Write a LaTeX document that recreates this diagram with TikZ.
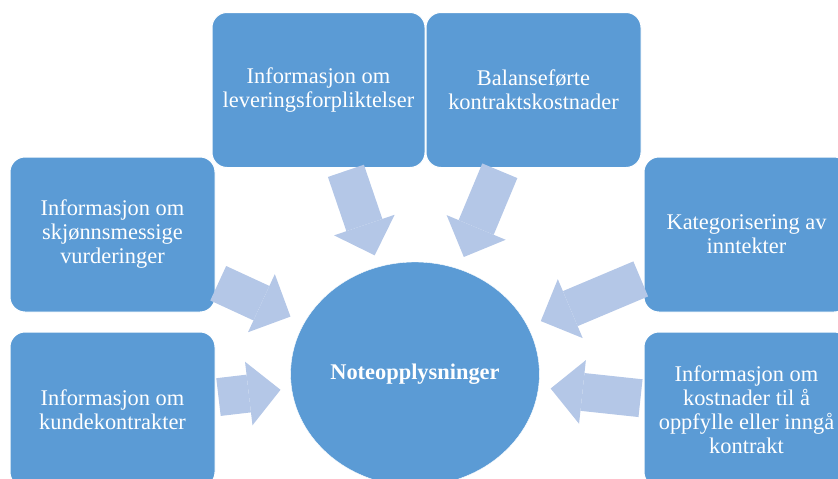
\documentclass[tikz,border=0pt]{standalone}
\usepackage{fontspec}
\setmainfont{Liberation Serif}
\usetikzlibrary{arrows.meta, shapes.geometric}
\definecolor{boxblue}{HTML}{5B9BD5}
\definecolor{arrowblue}{HTML}{B4C7E7}

\begin{document}
\begin{tikzpicture}[x=1pt, y=-1pt, font=\fontsize{22.4}{24}\selectfont,
    infobox/.style={draw=white, line width=1pt, fill=boxblue, text=white, rounded corners=15pt,
        minimum width=#1, minimum height=155pt, align=center, inner sep=4pt},
    infobox/.default=206pt,
    blockarrow/.style={draw=arrowblue, line width=38pt, shorten <=3pt,
        -{Triangle[length=32pt, width=64pt, line width=0pt, fill=arrowblue]}}]
    \useasboundingbox (0,0) rectangle (838,479);
    \clip (0,0) rectangle (838,479);
    % midten
    \node[ellipse, draw=white, fill=boxblue, text=white, minimum width=244pt, minimum height=224pt,
        font=\fontsize{22.4}{24}\selectfont\bfseries] (note) at (415,374) {Noteopplysninger};
    % bokser rundt
    \node[infobox=213pt] (lever) at (318.5,90) {Informasjon om\\leveringsforpliktelser};
    \node[infobox=215pt] (balanse) at (533.5,90) {Balanseførte\\kontraktskostnader};
    \node[infobox=205pt] (skjonn) at (112.5,234.5) {Informasjon om\\skjønnsmessige\\vurderinger};
    \node[infobox=205pt] (kunde) at (112.5,409.5) {Informasjon om\\kundekontrakter};
    \node[infobox=205pt] (kategori) at (746.5,234.5) {Kategorisering av\\inntekter};
    \node[infobox=205pt] (kostnad) at (746.5,409.5) {Informasjon om\\kostnader til å\\oppfylle eller inngå\\kontrakt};
    % piler inn mot midten
    \draw[blockarrow, shorten >=12pt] (lever) -- (note);
    \draw[blockarrow, shorten >=13pt] (balanse) -- (note);
    \draw[blockarrow, shorten >=15pt] (skjonn) -- (note);
    \draw[blockarrow, shorten >=11pt] (kunde) -- (note);
    \draw[blockarrow, shorten >=14pt] (kategori) -- (note);
    \draw[blockarrow, shorten >=12pt] (kostnad) -- (note);
\end{tikzpicture}
\end{document}
